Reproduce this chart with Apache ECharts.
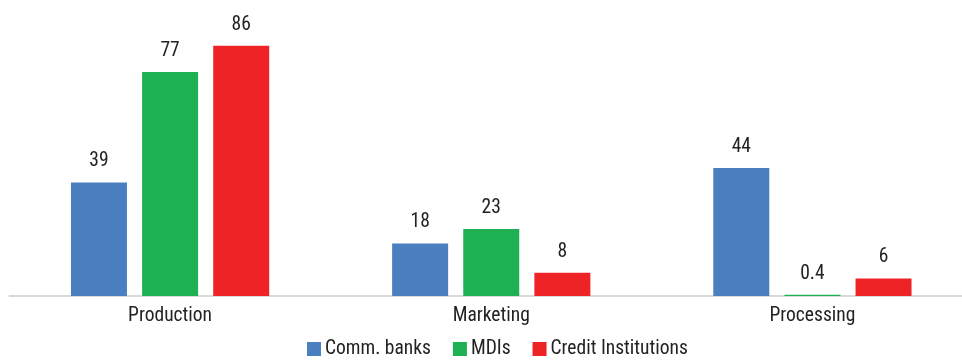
<!DOCTYPE html>
<html>
<head>
<meta charset="utf-8">
<script src="https://cdn.jsdelivr.net/npm/echarts@6/dist/echarts.min.js"></script>
<style>
  html, body { margin: 0; padding: 0; background: #fff; overflow: hidden; }
  /* the plot runs slightly past the right edge of the page */
  #chart { width: 973px; height: 360px; }
</style>
</head>
<body>
<div id="chart"></div>
<script>
// Loan purpose by lender type
var categories = ['Production', 'Marketing', 'Processing'];
var seriesNames = ['Comm. banks', 'MDIs', 'Credit Institutions'];
var commBanks = [39, 18, 44];
var mdis = [77, 23, 0.4];
var creditInstitutions = [86, 8, 6];

var colors = ['#4a7fc0', '#1db153', '#ee2326'];
var FONT = '"Roboto Condensed", "DejaVu Sans Condensed", sans-serif';
var TEXT = { fontFamily: FONT, fontSize: 19.5, color: '#222' };

function makeSeries(name, data, color) {
  return {
    name: name,
    type: 'bar',
    data: data,
    barWidth: 56,
    barGap: '27%',
    itemStyle: { color: color },
    label: Object.assign({
      show: true,
      position: 'top',
      distance: 11,
      formatter: function (p) { return String(p.value); }
    }, TEXT)
  };
}

var chart = echarts.init(document.getElementById('chart'));
chart.setOption({
  animation: false,
  grid: { left: 9.5, right: 0, top: 5, bottom: 64, containLabel: false },
  legend: {
    top: 334,
    left: 302,
    itemWidth: 14,
    itemHeight: 14,
    itemGap: 22,
    icon: 'rect',
    textStyle: Object.assign({ padding: [0, 0, 0, -1] }, TEXT),
    data: seriesNames
  },
  xAxis: {
    type: 'category',
    data: categories,
    axisLine: { lineStyle: { color: '#d9d9d9', width: 2 } },
    axisTick: { show: false },
    axisLabel: Object.assign({ margin: 10 }, TEXT)
  },
  yAxis: {
    type: 'value',
    min: 0,
    max: 100,
    show: false,
    splitLine: { show: false }
  },
  series: [
    makeSeries(seriesNames[0], commBanks, colors[0]),
    makeSeries(seriesNames[1], mdis, colors[1]),
    makeSeries(seriesNames[2], creditInstitutions, colors[2])
  ]
});
</script>
</body>
</html>
